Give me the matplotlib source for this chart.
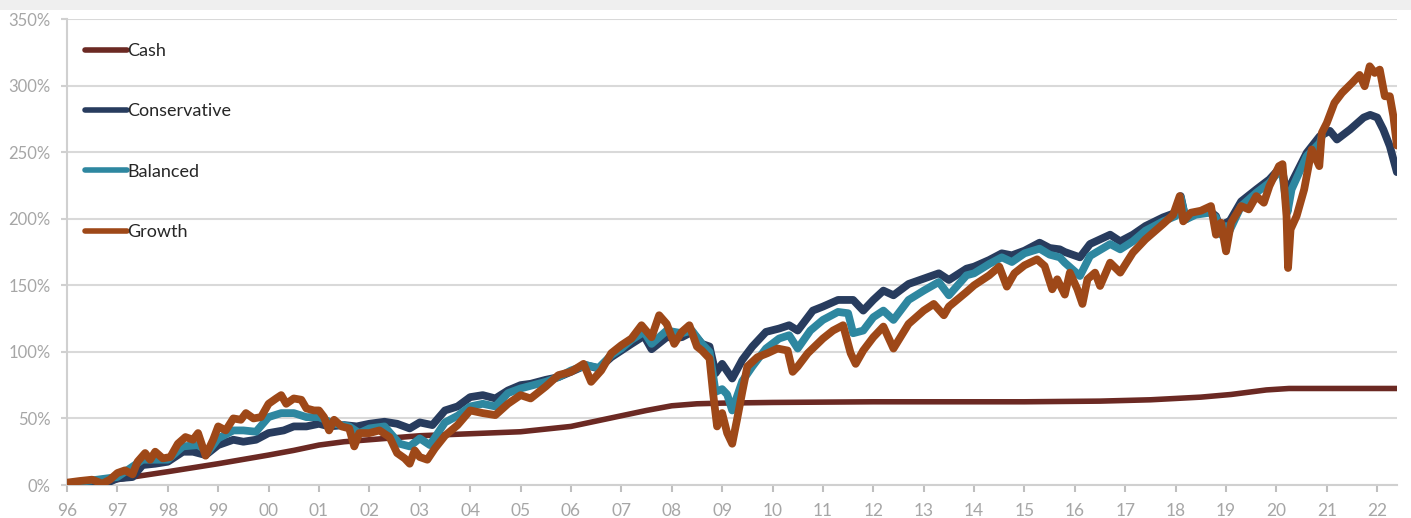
import matplotlib.pyplot as plt
from matplotlib.patches import Rectangle
from matplotlib.ticker import FuncFormatter

# --- data (cumulative return, %) ---
cash_t = [1996.0, 1997.0, 1997.3, 1998.0, 1999.0, 2000.0, 2000.5, 2001.0, 2001.5, 2002.0,
          2003.0, 2004.0, 2005.0, 2005.5, 2006.0, 2006.5, 2007.0, 2007.5, 2008.0, 2008.5,
          2009.0, 2010.0, 2012.0, 2015.0, 2016.5, 2017.5, 2018.5, 2019.1, 2019.8, 2020.25,
          2022.39]
cash_v = [0, 4, 6, 10, 16, 22.5, 26, 30, 32.5, 34,
          37, 38.5, 40, 42, 44, 48, 52, 56, 59.5, 61,
          61.5, 62, 62.5, 62.5, 63, 64, 66, 68, 71.4, 72.5,
          72.5]

cons_t = [1996.0, 1996.5, 1996.7, 1997.0, 1997.3, 1997.5, 1997.75, 1998.0, 1998.3, 1998.5,
          1998.75, 1999.0, 1999.3, 1999.5, 1999.75, 2000.0, 2000.3, 2000.5, 2000.75, 2001.0,
          2001.2, 2001.5, 2001.75, 2002.0, 2002.3, 2002.55, 2002.8, 2003.0, 2003.25, 2003.5,
          2003.75, 2004.0, 2004.25, 2004.5, 2004.75, 2005.0, 2005.2, 2005.5, 2005.75, 2006.0,
          2006.3, 2006.55, 2006.8, 2007.0, 2007.2, 2007.45, 2007.6, 2007.9, 2008.2, 2008.4,
          2008.6, 2008.75, 2008.87, 2009.0, 2009.2, 2009.4, 2009.6, 2009.87, 2010.13, 2010.33,
          2010.5, 2010.8, 2011.0, 2011.3, 2011.6, 2011.8, 2012.0, 2012.2, 2012.4, 2012.7,
          2013.0, 2013.3, 2013.5, 2013.85, 2014.0, 2014.3, 2014.55, 2014.75, 2015.0, 2015.3,
          2015.5, 2015.7, 2015.8, 2016.1, 2016.3, 2016.7, 2016.9, 2017.15, 2017.4, 2017.75,
          2018.0, 2018.1, 2018.2, 2018.4, 2018.67, 2018.8, 2018.9, 2019.0, 2019.07, 2019.3,
          2019.6, 2019.86, 2020.1, 2020.22, 2020.3, 2020.6, 2020.86, 2021.06, 2021.2, 2021.46,
          2021.73, 2021.86, 2022.0, 2022.12, 2022.25, 2022.39]
cons_v = [0.75, 1, 0, 5, 6, 15, 16, 17.5, 25, 25,
          22.5, 30, 34, 32.5, 34, 39, 41, 44, 44, 46,
          44, 45, 44, 46, 47.5, 46, 42.5, 47, 45, 56,
          59, 66, 67.5, 65, 71, 75, 76, 79, 81, 85,
          90, 87.5, 96, 101, 106, 112, 102, 111, 111, 115,
          106, 104, 84, 91, 80, 94, 104, 115, 117.5, 120,
          116, 131, 134, 139, 139, 131, 139, 146, 142.5, 151,
          155, 159, 154, 162.5, 164, 169, 174, 172.5, 176, 182,
          178, 177, 175, 171, 181, 188, 183, 188, 194.5, 201,
          204.5, 217, 199.5, 204.5, 206, 202, 191, 197, 198, 213,
          222, 229.5, 239.5, 215, 227, 249.5, 262, 266, 259.5, 267,
          276, 278, 276, 267, 254.5, 235]

bal_t = [1996.0, 1997.0, 1997.5, 1998.0, 1998.3, 1998.6, 1998.8, 1999.0, 1999.3, 1999.5,
         1999.75, 2000.0, 2000.25, 2000.5, 2000.75, 2001.0, 2001.3, 2001.6, 2001.8, 2002.0,
         2002.3, 2002.6, 2002.8, 2003.0, 2003.2, 2003.5, 2003.75, 2004.0, 2004.25, 2004.5,
         2004.75, 2005.0, 2005.25, 2005.5, 2005.75, 2006.0, 2006.3, 2006.55, 2006.8, 2007.0,
         2007.2, 2007.45, 2007.6, 2007.9, 2008.2, 2008.4, 2008.6, 2008.75, 2008.87, 2009.0,
         2009.1, 2009.2, 2009.4, 2009.6, 2009.87, 2010.13, 2010.33, 2010.5, 2010.75, 2011.0,
         2011.3, 2011.5, 2011.6, 2011.8, 2012.0, 2012.2, 2012.4, 2012.7, 2013.0, 2013.3,
         2013.5, 2013.85, 2014.0, 2014.3, 2014.55, 2014.75, 2015.0, 2015.3, 2015.5, 2015.7,
         2015.8, 2016.1, 2016.3, 2016.7, 2016.9, 2017.15, 2017.4, 2017.75, 2018.0, 2018.1,
         2018.2, 2018.4, 2018.67, 2018.8, 2018.9, 2019.0, 2019.07, 2019.3, 2019.6, 2019.86,
         2020.1, 2020.22, 2020.3, 2020.6, 2020.86, 2020.9]
bal_v = [1, 6, 19, 19, 29, 30, 25, 35, 41, 41,
         40, 51, 54, 54, 51, 51, 46, 44, 39, 42.5,
         44, 31, 29, 35, 30, 47, 52, 59, 61, 59,
         69, 72.5, 75, 77.5, 81, 86, 90, 88, 97.5, 102.5,
         109, 115, 106, 116, 114, 116, 106, 100, 70, 72,
         68, 56, 78, 89, 102.5, 110, 112.5, 102.5, 116, 124,
         130, 129, 114, 116, 126, 131, 124, 139, 146, 152.5,
         142.5, 157.5, 159, 166, 171, 167.5, 174, 177.5, 173, 171,
         167, 157, 172, 181, 177, 183, 191, 198, 202, 216,
         199.5, 203, 204.5, 201, 188, 194.5, 191, 209.5, 219.5, 227,
         238, 205, 222, 247, 257, 262]

grow_t = [1996.0, 1996.25, 1996.5, 1996.7, 1996.85, 1997.0, 1997.15, 1997.3, 1997.4, 1997.55,
          1997.65, 1997.75, 1997.9, 1998.05, 1998.2, 1998.35, 1998.5, 1998.6, 1998.75, 1998.9,
          1999.0, 1999.15, 1999.3, 1999.45, 1999.55, 1999.7, 1999.85, 2000.0, 2000.15, 2000.25,
          2000.35, 2000.5, 2000.65, 2000.75, 2000.9, 2001.0, 2001.1, 2001.2, 2001.3, 2001.45,
          2001.6, 2001.7, 2001.8, 2002.0, 2002.2, 2002.4, 2002.55, 2002.7, 2002.8, 2002.9,
          2003.0, 2003.15, 2003.3, 2003.5, 2003.75, 2004.0, 2004.25, 2004.5, 2004.75, 2005.0,
          2005.2, 2005.5, 2005.75, 2006.0, 2006.25, 2006.4, 2006.6, 2006.8, 2007.0, 2007.2,
          2007.4, 2007.6, 2007.75, 2007.9, 2008.05, 2008.2, 2008.35, 2008.5, 2008.6, 2008.75,
          2008.82, 2008.9, 2009.0, 2009.1, 2009.2, 2009.3, 2009.4, 2009.5, 2009.7, 2009.9,
          2010.1, 2010.3, 2010.4, 2010.5, 2010.7, 2011.0, 2011.2, 2011.4, 2011.55, 2011.65,
          2011.8, 2012.0, 2012.2, 2012.4, 2012.7, 2013.0, 2013.2, 2013.4, 2013.5, 2013.85,
          2014.0, 2014.3, 2014.5, 2014.65, 2014.8, 2015.0, 2015.25, 2015.4, 2015.55, 2015.65,
          2015.8, 2015.9, 2016.05, 2016.15, 2016.25, 2016.4, 2016.5, 2016.7, 2016.9, 2017.15,
          2017.4, 2017.75, 2017.95, 2018.08, 2018.15, 2018.3, 2018.5, 2018.7, 2018.8, 2018.9,
          2019.0, 2019.1, 2019.3, 2019.45, 2019.6, 2019.75, 2019.86, 2020.05, 2020.12, 2020.2,
          2020.23, 2020.28, 2020.4, 2020.55, 2020.7, 2020.85, 2020.9, 2021.0, 2021.15, 2021.3,
          2021.5, 2021.65, 2021.75, 2021.85, 2021.95, 2022.05, 2022.15, 2022.25, 2022.32, 2022.39]
grow_v = [1.75, 3, 4, 1, 4, 9, 11, 8, 17.5, 24,
          19, 25, 20, 21, 31, 36, 34, 39, 22, 34,
          44, 41, 50, 49, 54, 50, 51, 61, 65, 67.5,
          61, 65, 64, 57.5, 56, 56, 51, 41, 49, 44,
          42.5, 29, 39, 39, 41, 36, 24, 20, 16, 26,
          21, 19, 27.5, 37, 45, 56, 54, 52.5, 61, 67.5,
          65, 74, 82.5, 85, 91, 77.5, 86, 99, 105, 110,
          120, 111, 127.5, 121, 106, 115, 120, 104, 101, 95,
          69, 44, 54, 39, 31, 50, 70, 89, 96, 99,
          102.5, 101, 85, 89, 99, 110, 116, 120, 99, 91,
          101, 111, 119, 102.5, 121, 131, 136, 127.5, 134, 145,
          150, 157.5, 164, 149, 159, 165, 169.5, 164.5, 147, 154.5,
          143, 159.5, 147, 136, 154.5, 159.5, 149.5, 167, 159.5, 174.5,
          184.5, 196, 203, 217, 198, 204.5, 206, 209.5, 188, 197,
          175.5, 197, 209.5, 207, 217, 212, 224.5, 239.5, 241, 202,
          163, 192, 202, 222, 252, 239.5, 264.5, 272, 287, 294.5,
          302, 308, 299.5, 314.5, 309.5, 312, 292, 292, 277, 255]

series = [("Cash", cash_t, cash_v, "#6b2923", 4.0),
          ("Conservative", cons_t, cons_v, "#283c5e", 5.6),
          ("Balanced", bal_t, bal_v, "#2e87a0", 5.6),
          ("Growth", grow_t, grow_v, "#9e4818", 5.6)]

years = list(range(1996, 2023))
grey = "#a6a6a6"

plt.rcParams['font.family'] = ['Lato', 'DejaVu Sans']

fig = plt.figure(figsize=(14.11, 5.18), dpi=100)
fig.patches.append(Rectangle((0, 0.981), 1, 0.019, transform=fig.transFigure,
                             facecolor="#efefef", edgecolor="none", zorder=0))
ax = fig.add_axes([0.0475, 0.0637, 0.9425, 0.8996])

for name, t, v, col, lw in series:
    ax.plot(t, v, color=col, lw=lw, label=name, solid_capstyle="round",
            solid_joinstyle="round", zorder=3)

ax.set_xlim(1996.0, 2022.39)
ax.set_ylim(0, 350)
ax.set_yticks(range(0, 351, 50))
ax.yaxis.set_major_formatter(FuncFormatter(lambda v, p: f"{int(v)}%"))
ax.set_xticks(years)
ax.set_xticklabels([f"{y % 100:02d}" for y in years])

ax.grid(axis="y", color="#d9d9d9", lw=1.5, zorder=0)
for s in ["top", "right"]:
    ax.spines[s].set_visible(False)
for s in ["left", "bottom"]:
    ax.spines[s].set_color("#d0d0d0")
    ax.spines[s].set_linewidth(1.5)
ax.tick_params(axis="y", length=4, width=1.5, color="#d0d0d0", labelcolor=grey,
               labelsize=12, pad=8)
ax.tick_params(axis="x", length=5, width=1.5, color="#bfbfbf", labelcolor=grey,
               labelsize=12.5, pad=8)

leg = ax.legend(loc="upper left", bbox_to_anchor=(0.0135, 0.948), frameon=False,
                fontsize=13, handlelength=2.3, handletextpad=0.05, labelspacing=2.45,
                borderaxespad=0, borderpad=0)
for h in leg.get_lines():
    h.set_linewidth(4)
for txt in leg.get_texts():
    txt.set_color("#262626")

fig.savefig("out.png", dpi=100)
